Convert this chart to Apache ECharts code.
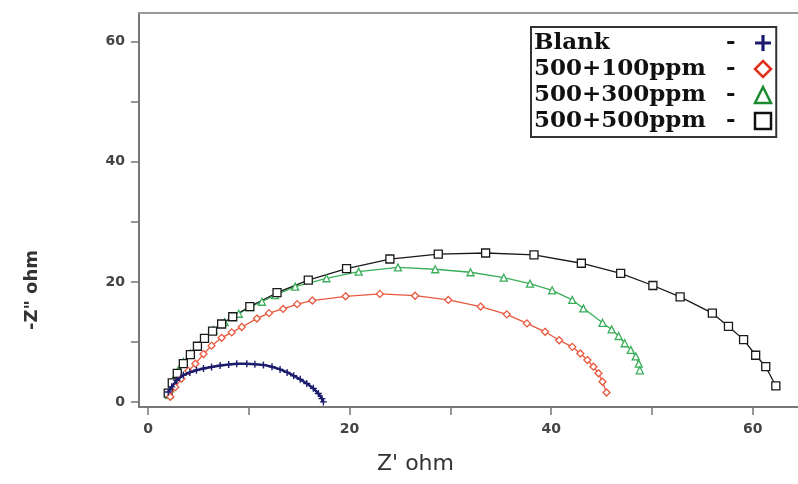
<!DOCTYPE html>
<html>
<head>
<meta charset="utf-8">
<script src="https://cdn.jsdelivr.net/npm/echarts@6/dist/echarts.min.js"></script>
<style>
  html, body { margin: 0; padding: 0; background: #fff; }
  #chart { width: 798px; height: 484px; }
</style>
</head>
<body>
<div id="chart"></div>
<script>
// Nyquist points: [Z' , -Z'']
const blankData = [
  [2.0, 1.7], [2.35, 2.55], [2.85, 3.65], [3.5, 4.5], [4.15, 4.95], [4.8, 5.3],
  [5.5, 5.6], [6.3, 5.85], [7.15, 6.1], [8.0, 6.25], [8.8, 6.4], [9.8, 6.4],
  [10.6, 6.3], [11.45, 6.2], [12.3, 5.9], [13.1, 5.45], [13.8, 4.95], [14.45, 4.4],
  [15.1, 3.8], [15.75, 3.1], [16.4, 2.3], [16.9, 1.45], [17.25, 0.6], [17.4, 0.05]
]
const ppm100Data = [
  [2.2, 0.9], [2.7, 2.5], [3.3, 3.9], [4.0, 5.2], [4.7, 6.4], [5.5, 8.0], [6.3, 9.4],
  [7.3, 10.7], [8.3, 11.6], [9.3, 12.5], [10.8, 13.9], [12.0, 14.8], [13.4, 15.5],
  [14.8, 16.3], [16.3, 16.9], [19.6, 17.6], [23.0, 18.0], [26.5, 17.7], [29.8, 17.0],
  [33.0, 15.9], [35.6, 14.6], [37.6, 13.1], [39.4, 11.7], [40.8, 10.3], [42.1, 9.2],
  [42.9, 8.1], [43.6, 7.0], [44.2, 5.9], [44.7, 4.8], [45.1, 3.4], [45.5, 1.6]
]
const ppm300Data = [
  [2.1, 1.2], [2.2, 2.3], [2.5, 3.7], [3.0, 5.3], [3.5, 6.7], [4.2, 8.1], [4.8, 9.2],
  [5.5, 10.6], [6.5, 12.0], [7.6, 13.3], [9.0, 14.7], [10.1, 15.8], [11.3, 16.7],
  [12.6, 17.8], [14.6, 19.2], [17.7, 20.6], [20.9, 21.7], [24.8, 22.4], [28.5, 22.1],
  [32.0, 21.6], [35.3, 20.7], [37.9, 19.7], [40.1, 18.6], [42.1, 17.0], [43.2, 15.6],
  [45.1, 13.2], [46.0, 12.1], [46.7, 11.0], [47.3, 9.8], [47.9, 8.7], [48.4, 7.6],
  [48.7, 6.4], [48.8, 5.3]
]
const ppm500Data = [
  [2.0, 1.5], [2.4, 3.2], [2.9, 4.8], [3.5, 6.4], [4.2, 7.9], [4.9, 9.3], [5.6, 10.6],
  [6.4, 11.8], [7.3, 13.0], [8.4, 14.2], [10.1, 15.9], [12.8, 18.2], [15.9, 20.3],
  [19.7, 22.2], [24.0, 23.8], [28.8, 24.6], [33.5, 24.8], [38.3, 24.5], [43.0, 23.1],
  [46.9, 21.4], [50.1, 19.4], [52.8, 17.5], [56.0, 14.8], [57.6, 12.6], [59.1, 10.4],
  [60.3, 7.8], [61.3, 5.9], [62.3, 2.7]
]
const seriesNames = ['Blank', '500+100ppm', '500+300ppm', '500+500ppm']
const xTicks = [0, 10, 20, 30, 40, 50, 60]
const xLabels = [0, 20, 40, 60]
const yTicks = [0, 10, 20, 30, 40, 50, 60]
const yLabels = [0, 20, 40, 60]

const plusPath = 'path://M4,0h2v4h4v2h-4v4h-2v-4h-4v-2h4z'
const labelFont = { fontFamily: 'DejaVu Sans', fontWeight: 'bold', fontSize: 14, color: '#444' }
const legendFont = { fontFamily: 'DejaVu Serif', fontWeight: 'bold', fontSize: 23, color: '#111', align: 'left' }

const chart = echarts.init(document.getElementById('chart'))

chart.setOption({
  animation: false,
  backgroundColor: '#fff',
  grid: { left: 139, right: 0, top: 13, bottom: 77 },
  legend: {
    orient: 'vertical',
    left: 531,
    top: 27,
    align: 'right',
    padding: [3, 4, 3, 3],
    itemGap: 0,
    itemWidth: 16,
    itemHeight: 16,
    borderColor: '#333',
    borderWidth: 2,
    formatter: name => '{n|' + name + '}{d|-}',
    textStyle: Object.assign({
      lineHeight: 26,
      rich: {
        n: Object.assign({ width: 192, lineHeight: 26 }, legendFont),
        d: Object.assign({ width: 24, lineHeight: 26 }, legendFont)
      }
    }, legendFont),
    data: [
      { name: seriesNames[0], icon: plusPath, itemStyle: { color: '#1c1c6e', borderWidth: 0 } },
      { name: seriesNames[1], icon: 'diamond', itemStyle: { color: '#fff', borderColor: '#e0301e', borderWidth: 2.5 } },
      { name: seriesNames[2], icon: 'triangle', itemStyle: { color: '#fff', borderColor: '#1d8a32', borderWidth: 2.5 } },
      { name: seriesNames[3], icon: 'rect', itemStyle: { color: '#fff', borderColor: '#111', borderWidth: 2.5 } }
    ]
  },
  xAxis: [{
    type: 'value',
    min: -0.9,
    max: 64.5,
    name: "Z' ohm",
    nameLocation: 'middle',
    nameGap: 46,
    nameTextStyle: { fontFamily: 'DejaVu Sans', fontSize: 22, color: '#333', padding: [0, 106, 0, 0] },
    axisLine: { onZero: false, lineStyle: { color: '#777', width: 2 } },
    axisTick: { customValues: xTicks, length: 8, lineStyle: { color: '#777', width: 1.5 } },
    axisLabel: Object.assign({ customValues: xLabels, margin: 15 }, labelFont),
    splitLine: { show: false }
  }, {
    type: 'value',
    position: 'top',
    min: -0.9,
    max: 64.5,
    axisLine: { show: true, onZero: false, lineStyle: { color: '#999', width: 2 } },
    axisTick: { show: false },
    axisLabel: { show: false },
    splitLine: { show: false }
  }],
  yAxis: {
    type: 'value',
    min: -0.8,
    max: 64.7,
    name: '-Z" ohm',
    nameLocation: 'middle',
    nameGap: 98,
    nameTextStyle: { fontFamily: 'DejaVu Sans', fontWeight: 'bold', fontSize: 18, color: '#333', padding: [0, 160, 0, 0] },
    axisLine: { show: true, onZero: false, lineStyle: { color: '#777', width: 2 } },
    axisTick: { customValues: yTicks, length: 8, lineStyle: { color: '#777', width: 1.5 } },
    axisLabel: Object.assign({ customValues: yLabels, margin: 14 }, labelFont),
    splitLine: { show: false }
  },
  series: [{
    name: seriesNames[0],
    type: 'line',
    data: blankData,
    symbol: plusPath,
    symbolSize: 7,
    itemStyle: { color: '#1c1c6e' },
    lineStyle: { color: '#1c1c6e', width: 2.5 },
    z: 4
  }, {
    name: seriesNames[1],
    type: 'line',
    data: ppm100Data,
    symbol: 'diamond',
    symbolSize: 7,
    itemStyle: { color: '#fff', borderColor: '#e8583e', borderWidth: 1.3 },
    lineStyle: { color: '#e8583e', width: 1.3 },
    z: 3
  }, {
    name: seriesNames[2],
    type: 'line',
    data: ppm300Data,
    symbol: 'triangle',
    symbolSize: 7,
    itemStyle: { color: '#fff', borderColor: '#3aae5a', borderWidth: 1.3 },
    lineStyle: { color: '#3aae5a', width: 1.3 },
    z: 2
  }, {
    name: seriesNames[3],
    type: 'line',
    data: ppm500Data,
    symbol: 'rect',
    symbolSize: 8,
    itemStyle: { color: '#fff', borderColor: '#1a1a1a', borderWidth: 1.3 },
    lineStyle: { color: '#1a1a1a', width: 1.3 },
    z: 2
  }]
})
</script>
</body>
</html>
